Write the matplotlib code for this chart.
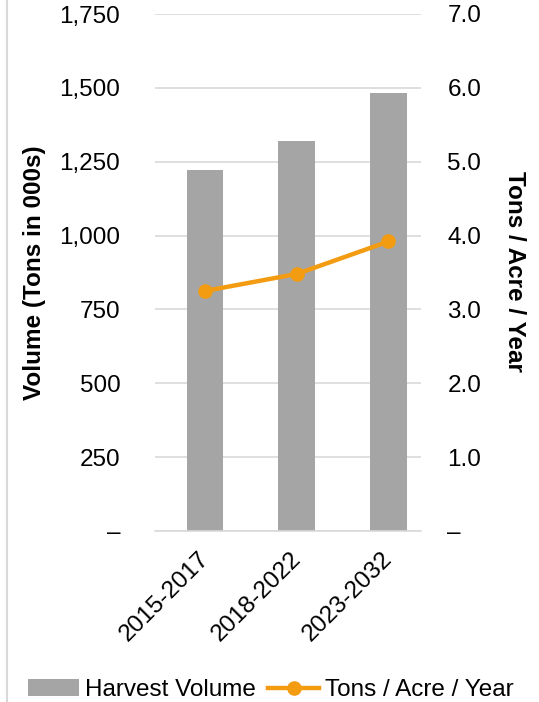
import matplotlib
matplotlib.use("Agg")
import matplotlib.pyplot as plt
from matplotlib.lines import Line2D
from matplotlib.ticker import FuncFormatter, MultipleLocator
from matplotlib.transforms import ScaledTranslation

plt.rcParams['font.family'] = ['Liberation Sans', 'DejaVu Sans']

categories = ["2015-2017", "2018-2022", "2023-2032"]
harvest_volume = [1223, 1319, 1483]
tons_per_acre = [3.25, 3.48, 3.92]

bar_color = '#A5A5A5'
line_color = '#F39C12'
grid_color = '#D9D9D9'
FS = 17.5

fig = plt.figure(figsize=(5.39, 7.02), dpi=100)
ax = fig.add_axes([155/539, 1-531/702, (421-155)/539, (531-14)/702])
ax2 = ax.twinx()

x = list(range(len(categories)))
bars = ax.bar(x, harvest_volume, width=0.4, color=bar_color, zorder=2, label='Harvest Volume')
ax.set_ylim(0, 1750)
ax.yaxis.set_major_locator(MultipleLocator(250))
ax.set_xlim(-0.545, 2.355)
ax.grid(axis='y', color=grid_color, lw=1.2, zorder=0)
ax.set_axisbelow(True)

ln, = ax2.plot(x, tons_per_acre, color=line_color, lw=3.2, marker='o', ms=9.5, zorder=3, label='Tons / Acre / Year')
ax2.set_ylim(0, 7)
ax2.yaxis.set_major_locator(MultipleLocator(1))

def fmt_left(v, p):
    return '–' if abs(v) < 1e-9 else f'{v:,.0f}'
def fmt_right(v, p):
    return '–' if abs(v) < 1e-9 else f'{v:.1f}'
ax.yaxis.set_major_formatter(FuncFormatter(fmt_left))
ax2.yaxis.set_major_formatter(FuncFormatter(fmt_right))

for a in (ax, ax2):
    for s in a.spines.values():
        s.set_visible(False)
    a.tick_params(length=0, labelsize=FS, colors='black')
ax.tick_params(axis='y', pad=25)
ax2.tick_params(axis='y', pad=19)
ax.spines['bottom'].set_visible(True)
ax.spines['bottom'].set_color(grid_color)
ax.spines['bottom'].set_linewidth(1.2)

ax.set_xticks(x)
ax.set_xticklabels(categories, rotation=45, ha='right', rotation_mode='anchor', fontsize=FS)
ax.tick_params(axis='x', pad=12)
for lbl in ax.get_xticklabels():
    lbl.set_transform(lbl.get_transform() + ScaledTranslation(-7/100, 0, fig.dpi_scale_trans))

ax.set_ylabel('Volume (Tons in 000s)', fontsize=FS, fontweight='bold', va='center')
ax.yaxis.set_label_coords(-(155-35)/266, 0.5)
ax2.set_ylabel('Tons / Acre / Year', fontsize=FS, fontweight='bold', rotation=-90, va='center')
ax2.yaxis.set_label_coords(1 + (515-421)/266, 0.5 + (531 - 271 - 258.5)/517)

fig.legend(handles=[bars, ln], labels=['Harvest Volume', 'Tons / Acre / Year'],
           loc='center', bbox_to_anchor=(271/539, 1-690/702), ncol=2, frameon=False,
           fontsize=FS, handlelength=2.1, handletextpad=0.25, columnspacing=0.5)

fig.add_artist(Line2D([7/539, 7/539], [0, 1], transform=fig.transFigure, color='#D9D9D9', lw=1.5))

fig.savefig('out.png', dpi=100)
